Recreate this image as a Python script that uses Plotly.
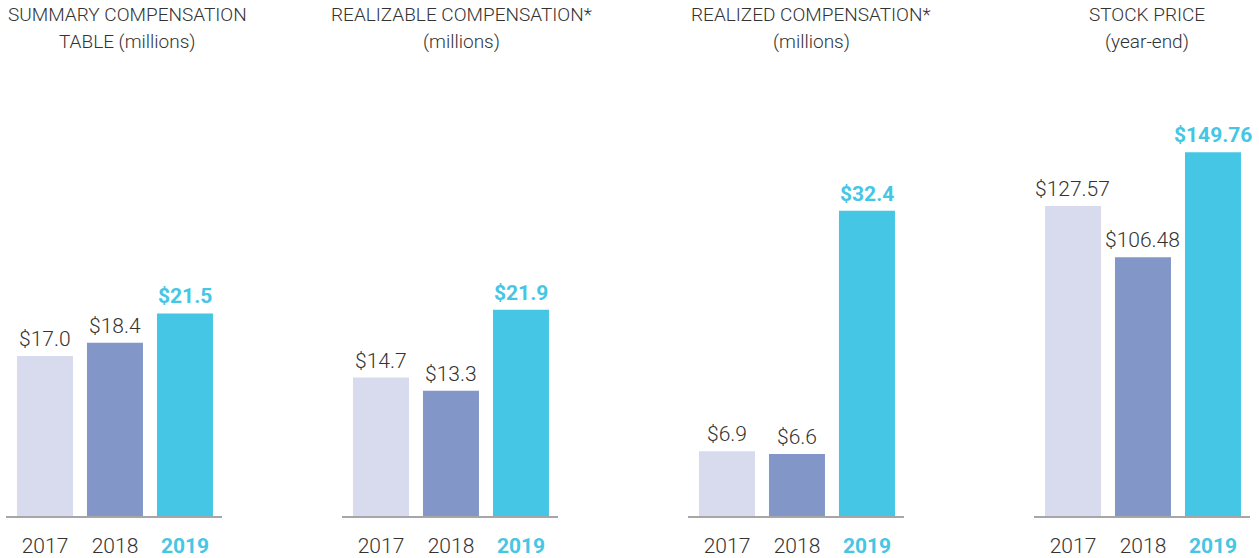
import plotly.graph_objects as go

# ---- data ----
years = ["2017", "2018", "2019"]
summary_comp = [17.0, 18.4, 21.5]
realizable_comp = [14.7, 13.3, 21.9]
realized_comp = [6.9, 6.6, 32.4]
stock_price = [127.57, 106.48, 149.76]

panel_titles = [
    ("SUMMARY COMPENSATION", "TABLE (millions)"),
    ("REALIZABLE COMPENSATION*", "(millions)"),
    ("REALIZED COMPENSATION*", "(millions)"),
    ("STOCK PRICE", "(year-end)"),
]
value_formats = ["${:.1f}", "${:.1f}", "${:.1f}", "${:.2f}"]

# ---- style ----
W, H = 1259, 558
bar_colors = ["#D8DBEE", "#8296C8", "#45C6E5"]
highlight = "#45C6E5"
text_color = "#333333"
axis_color = "#A6A6A6"
FONT = "Roboto"

# panel geometry in pixels: left edge of the baseline, title centre
panel_left = [6, 342, 688, 1034]
panel_width = 216
title_x = [128, 461, 811, 1147]
baseline_px = 519
# pixels per data unit: compensation panels share one scale, stock price its own
px_per_unit = [9.48, 9.48, 9.48, 2.444]

series = [summary_comp, realizable_comp, realized_comp, stock_price]

fig = go.Figure()
annotations = []

tick_text = [
    "2017",
    "2018",
    f"<b><span style='color:{highlight}'>2019</span></b>",
]

for i, vals in enumerate(series):
    n = i + 1
    xa = "x" if n == 1 else f"x{n}"
    ya = "y" if n == 1 else f"y{n}"
    fig.add_trace(
        go.Bar(
            x=years,
            y=vals,
            marker=dict(color=bar_colors, line=dict(width=0)),
            width=0.8,
            xaxis=xa,
            yaxis=ya,
            hoverinfo="skip",
            showlegend=False,
        )
    )
    x0 = panel_left[i] / W
    x1 = (panel_left[i] + panel_width) / W
    fig.layout[f"xaxis{'' if n == 1 else n}"] = dict(
        domain=[x0, x1],
        anchor=ya,
        range=[-0.557, 2.529],
        type="category",
        showline=True,
        linecolor=axis_color,
        linewidth=2,
        showgrid=False,
        zeroline=False,
        ticks="outside",
        ticklen=10,
        tickcolor="rgba(0,0,0,0)",
        tickmode="array",
        tickvals=years,
        ticktext=tick_text,
        tickfont=dict(family=FONT, size=21, color=text_color, weight=300),
        fixedrange=True,
    )
    fig.layout[f"yaxis{'' if n == 1 else n}"] = dict(
        domain=[(H - baseline_px) / H, 1.0],
        anchor=xa,
        range=[0, baseline_px / px_per_unit[i]],
        visible=False,
        fixedrange=True,
    )

    # value labels above each bar (x given as category index)
    for j, v in enumerate(vals):
        label = value_formats[i].format(v)
        is_last = j == len(vals) - 1
        annotations.append(
            dict(
                x=j,
                y=v,
                xref=xa,
                yref=ya,
                text=f"<b>{label}</b>" if is_last else label,
                showarrow=False,
                yanchor="bottom",
                yshift=3,
                font=dict(
                    family=FONT,
                    size=21,
                    color=highlight if is_last else text_color,
                    weight=300,
                ),
            )
        )

    # two-line panel title
    for line, cy in zip(panel_titles[i], (15, 42)):
        annotations.append(
            dict(
                x=title_x[i] / W,
                y=1 - cy / H,
                xref="paper",
                yref="paper",
                text=line,
                showarrow=False,
                xanchor="center",
                yanchor="middle",
                font=dict(family=FONT, size=19, color=text_color, weight=300),
            )
        )

fig.update_layout(
    width=W,
    height=H,
    margin=dict(l=0, r=0, t=0, b=0),
    paper_bgcolor="white",
    plot_bgcolor="white",
    annotations=annotations,
    bargap=0.2,
)

fig.write_html("out.html", config={"displayModeBar": False})
